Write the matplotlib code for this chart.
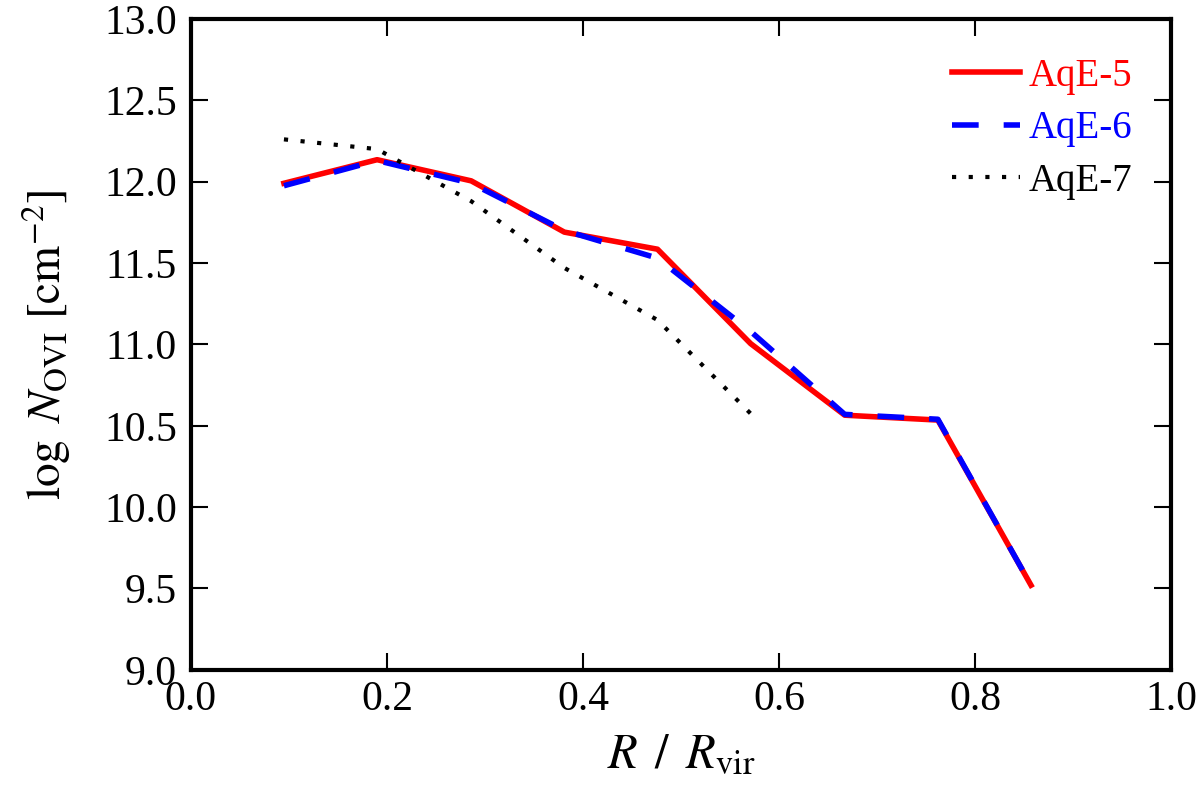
import numpy as np
import matplotlib
matplotlib.use('Agg')
import matplotlib.pyplot as plt

plt.rcParams['font.family'] = ['Liberation Serif', 'DejaVu Serif']
plt.rcParams['mathtext.fontset'] = 'stix'

# radial bins (R / Rvir)
r_bins = [0.095, 0.190, 0.286, 0.381, 0.476, 0.571, 0.667, 0.762, 0.857]

# log N_OVI for each resolution level
logN_aqe5 = [11.99, 12.135, 12.005, 11.69, 11.585, 11.005, 10.565, 10.535, 9.52]
logN_aqe6 = [11.975, 12.13, 11.99, 11.70, 11.53, 11.08, 10.57, 10.54, 9.52]
logN_aqe7 = [12.26, 12.20, 11.88, 11.47, 11.15, 10.575]

fig = plt.figure(figsize=(12, 7.89), dpi=100)
ax = fig.add_axes([0.159, 0.151, 0.817, 0.825])

ax.plot(r_bins, logN_aqe5, color='red', lw=4, ls='-', label='AqE-5')
ax.plot(r_bins, logN_aqe6, color='blue', lw=4, dashes=(4.8, 4.5), label='AqE-6')
ax.plot(r_bins[:len(logN_aqe7)], logN_aqe7, color='black', lw=3, dashes=(1, 3), label='AqE-7')

ax.set_xlim(0.0, 1.0)
ax.set_ylim(9.0, 13.0)
ax.set_xticks(np.arange(0.0, 1.01, 0.2))
ax.set_yticks(np.arange(9.0, 13.01, 0.5))
ax.xaxis.set_major_formatter(matplotlib.ticker.FormatStrFormatter('%.1f'))
ax.yaxis.set_major_formatter(matplotlib.ticker.FormatStrFormatter('%.1f'))

ax.tick_params(which='major', direction='in', top=True, right=True,
               length=12, width=1.5, labelsize=30)
ax.tick_params(axis='x', pad=8)
ax.tick_params(axis='y', pad=10)
for sp in ax.spines.values():
    sp.set_linewidth(3)

ax.set_xlabel(r'$R\ \,/\ \,R_{\rm vir}$', fontsize=35, labelpad=10)
ax.set_ylabel(r'$\log\ N_{\rm OVI}\ [{\rm cm}^{-2}]$', fontsize=34, labelpad=22)

ax.legend(loc='upper right', frameon=False, fontsize=28, handlelength=1.75,
          handletextpad=0.22, labelspacing=0.4, borderaxespad=0.6,
          labelcolor='linecolor')

fig.savefig('out.png', dpi=100)
